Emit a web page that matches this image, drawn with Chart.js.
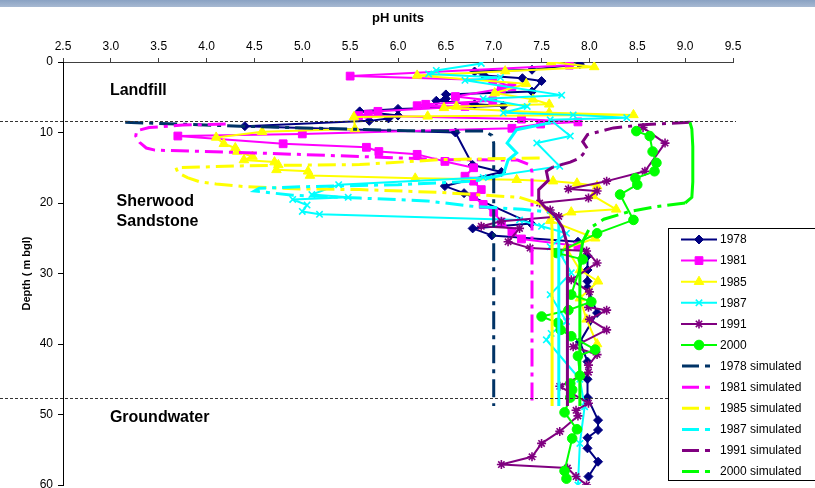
<!DOCTYPE html>
<html>
<head>
<meta charset="utf-8">
<script src="https://cdn.jsdelivr.net/npm/chart.js@4/dist/chart.umd.min.js"></script>
<style>
  html, body { margin: 0; padding: 0; background: #fff; overflow: hidden; }
  #wrap { position: relative; width: 815px; height: 488px; overflow: hidden; }
  #band { position: absolute; left: 0; top: 0; width: 815px; height: 7px;
          background: linear-gradient(#8aa2c3, #a7b9d2); }
  canvas { position: absolute; left: 0; top: 0; }
</style>
</head>
<body>
<div id="wrap">
  <canvas id="c" width="815" height="500" style="width:815px;height:500px"></canvas>
  <div id="band"></div>
</div>
<script>
// ---- Measured pH profiles (depth in m below ground level) ----
const depth1978 = [0.3,1.1,1.35,1.9,2.3,2.7,4.2,4.6,5.2,5.5,6.0,6.2,6.65,7.0,7.6,8.0,8.35,9.1,10.0,14.6,15.6,17.6,18.6,22.9,23.6,24.6,25.5,27.5,29.5,31.1,32.0,35.6,39.7,42.5,45.0,47.6,50.8,52.2,53.3,54.8,56.7,58.8];
const ph1978    = [7.9,7.4,6.8,6.9,7.3,7.5,7.4,6.5,6.5,6.4,6.8,7.1,6.0,5.6,6.0,5.9,5.7,4.4,6.6,6.78,7.08,6.49,6.69,7.39,6.78,6.98,7.88,7.98,7.98,7.98,7.98,8.08,7.9,7.98,7.98,7.98,8.09,8.09,7.98,7.98,8.09,7.99];

const depth1981 = [0.45,2.0,2.6,3.5,3.8,4.9,5.5,6.0,6.2,6.3,7.0,7.4,7.6,8.1,8.5,8.8,9.4,10.2,10.5,11.6,12.1,12.7,13.1,14.1,15.0,16.2,16.9,18.1,19.1,20.2,21.3,22.7,24.1,25.1,26.1];
const ph1981    = [7.79,5.5,6.99,7.19,7.08,6.6,6.99,6.29,6.2,6.7,5.79,5.69,5.59,7.29,7.88,7.49,7.19,5.0,3.7,4.8,5.67,5.8,6.2,6.49,6.79,6.7,6.79,6.87,6.79,6.89,7.0,7.08,7.19,7.29,7.88];

const depth1985 = [0.0,0.7,1.3,1.9,3.1,4.4,5.3,6.0,6.3,6.5,7.2,7.5,7.7,7.8,9.5,9.9,10.7,11.6,12.2,12.7,13.4,13.9,14.2,14.6,15.3,15.5,16.1,16.5,16.7,16.9,17.2,17.6,19.0,20.9,21.3,22.5,25.0,26.4,29.5,31.1,33.5,36.5,40.0];
const ph1985    = [7.6,8.05,7.12,6.2,7.34,7.01,7.41,7.58,6.61,6.48,7.58,8.46,6.31,5.54,5.55,4.58,4.1,4.18,4.3,4.32,4.48,4.39,4.71,4.75,4.73,5.06,5.08,6.18,7.24,7.62,7.87,8.08,8.04,8.28,7.81,7.59,8.06,7.76,7.9,8.09,7.9,7.97,8.08];

const depth1987 = [0.2,1.2,1.7,2.2,2.6,4.7,5.2,6.3,7.2,7.5,7.9,8.2,10.5,11.5,14.8,16.4,17.4,18.8,19.2,19.5,20.3,21.2,21.6,22.4,23.3,24.3,26.2,27.3,29.9,33.0,36.8,38.5,39.4,45.0,48.9,54.1,60.0];
const ph1987    = [6.87,6.4,6.32,7.07,6.7,7.71,6.89,7.35,7.1,7.83,8.39,7.59,7.8,7.45,7.69,6.89,5.38,5.1,5.48,4.9,5.05,5.0,5.18,7.27,7.5,7.76,7.59,7.7,7.81,7.59,7.76,7.6,7.55,7.9,7.95,7.9,7.88];

const depth1991 = [9.3,11.5,15.5,16.9,18.0,18.3,19.3,20.0,21.0,21.9,22.6,23.3,23.6,25.5,26.4,26.8,28.5,30.9,32.6,34.8,35.2,36.5,38.0,40.4,41.5,43.0,44.0,46.0,48.4,49.4,50.2,52.4,54.1,56.0,57.1,57.6,58.8,60.0];
const ph1991    = [8.56,8.79,8.58,8.18,7.78,8.08,7.99,7.48,7.59,7.68,7.08,6.87,7.27,7.15,7.38,7.97,8.08,7.81,8.0,7.99,8.18,8.0,8.18,7.83,8.08,7.99,7.99,7.69,7.99,7.86,7.88,7.69,7.5,7.4,7.08,7.77,7.86,7.97];

const depth2000 = [9.8,10.5,12.7,14.3,15.5,16.5,17.4,18.8,22.4,24.3,27.1,28.0,33.0,34.0,35.2,36.1,37.0,38.0,38.9,40.8,41.7,44.5,45.6,46.5,47.6,49.7,52.1,53.4,58.0,59.1];
const ph2000    = [8.49,8.63,8.66,8.7,8.68,8.48,8.5,8.32,8.46,8.08,7.66,7.93,7.81,8.02,7.78,7.5,7.67,7.7,7.81,8.06,7.88,7.9,7.8,7.82,7.8,7.74,7.87,7.82,7.74,7.76];

// ---- Simulated pH profiles ----
const simDepth1978 = [8.55,9.1,9.75,9.8,10.4,11.5,48.8];
const simPh1978    = [3.15,4.35,6.1,6.9,6.98,7.0,7.0];

const simDepth1981 = [8.8,8.95,9.3,9.75,10.5,11.4,12.2,12.5,12.9,13.4,13.85,13.9,14.6,15.6,48.8];
const simPh1981    = [4.2,3.75,3.4,3.27,3.26,3.3,3.37,3.46,4.5,5.6,6.49,7.25,7.38,7.4,7.4];

const simDepth1985 = [13.6,13.85,14.55,14.7,15.0,15.7,16.4,17.0,17.3,17.7,18.0,18.1,18.5,19.2,20.2,21.7,23.8,48.8];
const simPh1985    = [7.48,6.44,5.6,4.45,3.68,3.7,3.8,3.93,4.1,4.42,4.98,5.6,6.44,7.27,7.5,7.6,7.61,7.61];

const simDepth1987 = [8.6,9.6,11.5,12.9,13.9,16.0,16.9,17.4,17.7,17.9,18.3,18.9,19.3,19.7,20.5,20.9,21.3,22.5,24.0,48.8];
const simPh1987    = [7.6,7.24,7.14,7.24,7.15,7.1,6.8,6.0,5.0,4.55,4.5,4.9,5.6,6.3,6.8,7.3,7.6,7.68,7.68,7.68];

const simDepth1991 = [8.55,8.85,9.35,10.3,11.3,12.3,13.6,14.2,14.9,15.5,16.8,18.1,19.6,20.8,21.8,23.5,26.0,48.8];
const simPh1991    = [9.05,8.6,8.25,7.98,7.93,7.98,7.9,7.8,7.62,7.55,7.57,7.47,7.47,7.55,7.64,7.72,7.77,7.77];

const simDepth2000 = [8.55,9.5,12.0,17.0,19.2,20.0,20.5,21.2,22.3,23.6,25.5,28.0,48.8];
const simPh2000    = [9.05,9.07,9.08,9.08,9.07,9.0,8.7,8.42,8.15,8.0,7.93,7.9,7.9];

// Base of the landfill and top of the saturated zone (m bgl)
const zoneBoundaries = [8.3, 47.65];

const FONT = "'Liberation Sans', Arial, Helvetica, sans-serif";
const SIM_DASH = [18, 6, 4, 6];

const pts = (ph, depth) => ph.map((v, i) => ({ x: v, y: depth[i] }));

function measured(label, color, style, radius, ph, depth) {
  return {
    label, data: pts(ph, depth), showLine: true, borderColor: color, backgroundColor: color,
    borderWidth: 2, borderJoinStyle: 'round', borderCapStyle: 'round',
    pointStyle: style, pointRadius: radius, pointBackgroundColor: color,
    pointBorderColor: color, pointBorderWidth: (style === 'crossRot' || style === 'star') ? 1.6 : 1,
    tension: 0, simulated: false
  };
}

// dashed over the listed depth ranges, solid elsewhere
function simulated(label, color, ph, depth, dashedRanges) {
  return {
    label, data: pts(ph, depth), showLine: true, borderColor: color, backgroundColor: color,
    borderWidth: 3, pointRadius: 0, tension: 0, simulated: true,
    borderDash: SIM_DASH,
    segment: {
      borderDash: ctx => {
        const ds = ctx.chart.data.datasets[ctx.datasetIndex].data;
        const mid = (ds[ctx.p0DataIndex].y + ds[ctx.p1DataIndex].y) / 2;
        return dashedRanges.some(([a, b]) => mid >= a && mid <= b) ? SIM_DASH : [];
      }
    }
  };
}

const datasets = [
  measured('1978', '#000080', 'rectRot', 4.5, ph1978, depth1978),
  measured('1981', '#FF00FF', 'rect', 5.5, ph1981, depth1981),
  measured('1985', '#FFFF00', 'triangle', 5.5, ph1985, depth1985),
  measured('1987', '#00FFFF', 'crossRot', 4.5, ph1987, depth1987),
  measured('1991', '#800080', 'star', 4.5, ph1991, depth1991),
  measured('2000', '#00FF00', 'circle', 4.8, ph2000, depth2000),
  simulated('1978 simulated', '#003366', simPh1978, simDepth1978, [[0, 60]]),
  simulated('1981 simulated', '#FF00FF', simPh1981, simDepth1981, [[0, 60]]),
  simulated('1985 simulated', '#FFFF00', simPh1985, simDepth1985, [[0, 19.5]]),
  simulated('1987 simulated', '#00FFFF', simPh1987, simDepth1987, [[16.0, 21.3]]),
  simulated('1991 simulated', '#800080', simPh1991, simDepth1991, [[0, 14.9]]),
  simulated('2000 simulated', '#00FF00', simPh2000, simDepth2000, [[19.9, 25.5]])
];
// later series are painted over earlier ones
datasets.forEach((d, i) => { d.order = datasets.length - i; });

const overlay = {
  id: 'overlay',
  afterDatasetsDraw(chart) {
    const { ctx, chartArea: a, scales: { x, y } } = chart;
    ctx.save();

    // zone boundaries
    ctx.strokeStyle = '#333';
    ctx.lineWidth = 1;
    ctx.setLineDash([3, 2]);
    zoneBoundaries.forEach(d => {
      const py = Math.round(y.getPixelForValue(d)) + 0.5;
      ctx.beginPath();
      ctx.moveTo(0, py);
      ctx.lineTo(a.right + 3, py);
      ctx.stroke();
    });
    ctx.setLineDash([]);

    // zone names
    ctx.fillStyle = '#000';
    ctx.font = 'bold 16px ' + FONT;
    ctx.textAlign = 'left';
    ctx.textBaseline = 'middle';
    [['Landfill', 2.99, 4.1], ['Sherwood', 3.06, 19.8], ['Sandstone', 3.06, 22.6], ['Groundwater', 2.99, 50.4]]
      .forEach(([t, px, dp]) => ctx.fillText(t, x.getPixelForValue(px), y.getPixelForValue(dp)));

    // legend
    const bx = 668.5, by = 228.5, bw = 150, bh = 252;
    ctx.fillStyle = '#fff';
    ctx.fillRect(bx, by, bw, bh);
    ctx.strokeStyle = '#000';
    ctx.lineWidth = 1;
    ctx.strokeRect(bx, by, bw, bh);
    ctx.font = '12px ' + FONT;
    chart.data.datasets.forEach((ds, i) => {
      const yy = 239.5 + i * 21.1;
      ctx.strokeStyle = ds.borderColor;
      ctx.fillStyle = ds.borderColor;
      if (ds.simulated) {
        ctx.lineWidth = 3;
        ctx.beginPath();
        ctx.moveTo(682, yy); ctx.lineTo(699, yy);
        ctx.moveTo(705, yy); ctx.lineTo(710, yy);
        ctx.stroke();
      } else {
        ctx.lineWidth = 2;
        ctx.beginPath();
        ctx.moveTo(681, yy); ctx.lineTo(717, yy);
        ctx.stroke();
        ctx.lineWidth = ds.pointBorderWidth;
        Chart.helpers.drawPoint(ctx, { pointStyle: ds.pointStyle, radius: ds.pointRadius, borderWidth: ds.pointBorderWidth, rotation: 0 }, 699, yy);
      }
      ctx.fillStyle = '#000';
      ctx.fillText(ds.label, 720, yy + 0.5);
    });
    ctx.restore();
  }
};

new Chart(document.getElementById('c'), {
  type: 'scatter',
  data: { datasets },
  plugins: [overlay],
  options: {
    responsive: false,
    animation: false,
    layout: { padding: { left: 0, top: 0, right: 82, bottom: 15 } },
    plugins: { legend: { display: false }, tooltip: { enabled: false } },
    scales: {
      x: {
        type: 'linear', position: 'top', min: 2.5, max: 9.5,
        ticks: { stepSize: 0.5, color: '#000', font: { family: FONT, size: 12 }, padding: 4, maxRotation: 0, autoSkip: false },
        grid: { drawOnChartArea: false, drawTicks: true, tickLength: 4, color: '#404040' },
        border: { color: '#404040', width: 1 },
        title: { display: true, text: 'pH units', color: '#000', font: { family: FONT, size: 13, weight: 'bold' }, padding: { top: 11, bottom: 0 } },
        afterFit(s) { s.height = 62; s.paddingLeft = 0; s.paddingRight = 0; }
      },
      y: {
        type: 'linear', position: 'left', reverse: true, min: 0, max: 60,
        ticks: { stepSize: 10, color: '#000', font: { family: FONT, size: 12 }, padding: 5 },
        grid: { drawOnChartArea: false, drawTicks: true, tickLength: 5, color: '#000' },
        border: { color: '#000', width: 1 },
        title: { display: true, text: 'Depth ( m bgl)', color: '#000', font: { family: FONT, size: 11, weight: 'bold' }, padding: { top: 20, bottom: 0 } },
        afterFit(s) { s.width = 63; s.paddingTop = 0; s.paddingBottom = 0; }
      }
    }
  }
});
</script>
</body>
</html>
